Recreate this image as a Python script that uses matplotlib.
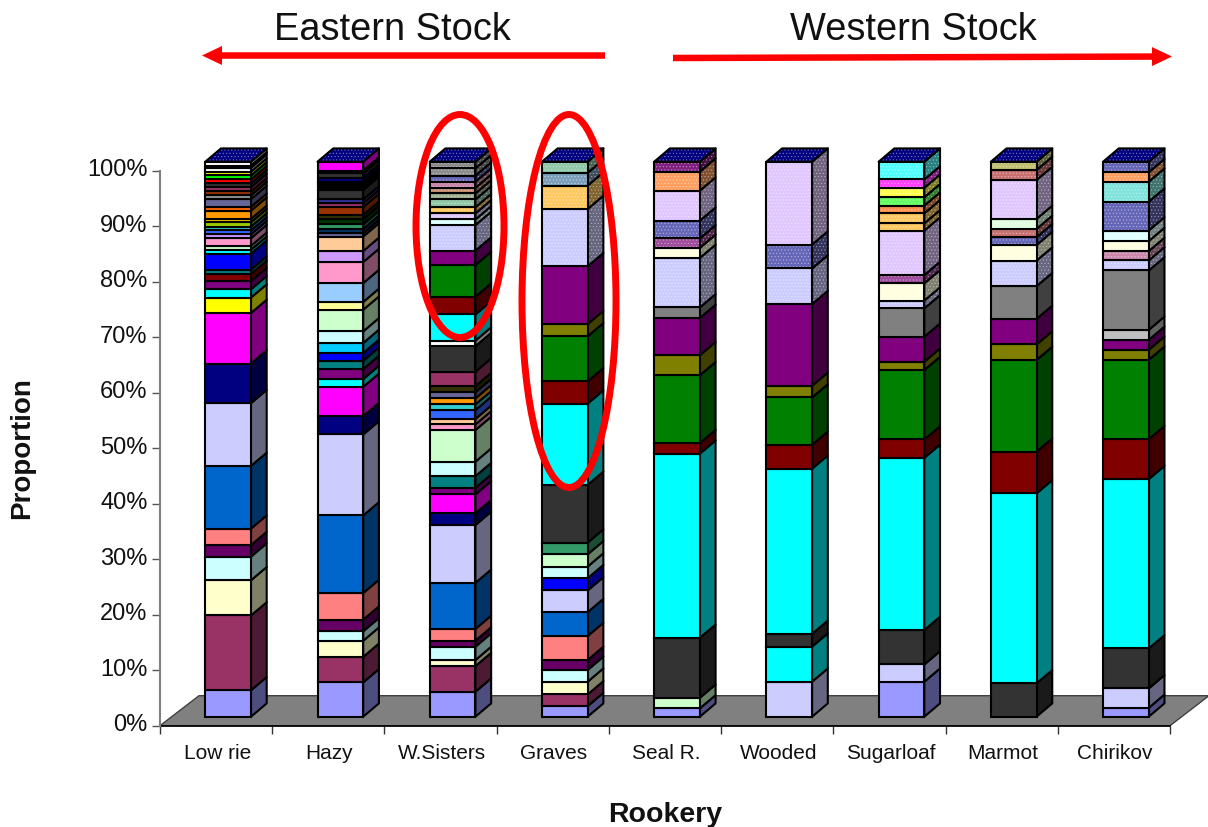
import numpy as np
import matplotlib
matplotlib.use('Agg')
import matplotlib.pyplot as plt
from matplotlib.patches import Polygon, Ellipse, FancyArrow
from matplotlib.transforms import ScaledTranslation

plt.rcParams['font.family'] = 'Liberation Sans'
plt.rcParams['hatch.linewidth'] = 0.4

rookeries = ['Low rie', 'Hazy', 'W.Sisters', 'Graves', 'Seal R.', 'Wooded', 'Sugarloaf', 'Marmot', 'Chirikov']
y_ticks = [0, 10, 20, 30, 40, 50, 60, 70, 80, 90, 100]

palette = {
    'peri': '#9999FF', 'plum': '#993366', 'ivory': '#FFFFCC', 'ltturq': '#CCFFFF', 'dkpur': '#660066',
    'coral': '#FF8080', 'ocean': '#0066CC', 'ice': '#CCCCFF', 'navy': '#000080', 'pink': '#FF00FF',
    'yellow': '#FFFF00', 'cyan': '#00FFFF', 'violet': '#800080', 'dkred': '#800000', 'teal': '#008080',
    'blue': '#0000FF', 'sky': '#00CCFF', 'ltgreen': '#CCFFCC', 'ltyel': '#FFFF99', 'pale': '#99CCFF',
    'rose': '#FF99CC', 'lav': '#CC99FF', 'tan': '#FFCC99', 'royal': '#3366FF', 'aqua': '#33CCCC',
    'lime': '#99CC00', 'gold': '#FFCC00', 'orange': '#FF9900', 'dkorg': '#FF6600', 'slate': '#666699',
    'gray40': '#969696', 'sea': '#339966', 'dkteal': '#003366', 'dkgreen': '#003300', 'dkolive': '#333300',
    'brown': '#993300', 'indigo': '#333399', 'dkgray': '#333333', 'gray': '#808080', 'green': '#008000',
    'olive': '#808000', 'white': '#FFFFFF', 'silver': '#C0C0C0', 'black': '#000000', 'red': '#FF0000',
    'bright': '#00FF00',
    # dotted fills, names start with h_
    'h_ice': '#CCCCFF', 'h_lilac': '#E0C8FF', 'h_peri': '#6666B8', 'h_plum': '#A04C9C', 'h_orange': '#FFA060',
    'h_gold': '#FFC860', 'h_sea': '#90C8A8', 'h_bluegray': '#7CA0BC', 'h_purple': '#802080', 'h_ivory': '#FFFFE0',
    'h_ltturq': '#E0FFFF', 'h_ltgreen': '#E0FFE0', 'h_aqua': '#80E4DC', 'h_rosy': '#C87070', 'h_olive': '#C0C070',
    'h_mauve': '#CC88AC', 'h_tan': '#C89070', 'h_gray': '#8C8C8C', 'h_sage': '#A0B090', 'h_cyan': '#50FFFF',
    'h_pink': '#FF40FF', 'h_yellow': '#FFFF50', 'h_lime': '#60FF60', 'h_dkorg': '#FF9050',
}

lowrie_vals = [4.8, 13.6, 6.4, 4.3, 2.1, 3.0, 11.4, 11.4, 7.2, 9.2, 2.8, 1.5, 1.5, 1.3, 0.8, 2.9, 0.7, 0.7, 1.4, 0.7,
               0.7, 0.7, 0.8, 0.6, 1.5, 0.7, 1.4, 0.7, 0.7, 0.8, 0.7, 0.7, 0.7, 0.7, 0.7, 0.4, 0.7]
lowrie_cols = ['peri', 'plum', 'ivory', 'ltturq', 'dkpur', 'coral', 'ocean', 'ice', 'navy', 'pink', 'yellow', 'cyan',
               'violet', 'dkred', 'teal', 'blue', 'cyan', 'ltgreen', 'rose', 'lav', 'royal', 'aqua', 'lime', 'gold',
               'orange', 'dkorg', 'slate', 'gray40', 'brown', 'plum', 'dkgray', 'red', 'bright', 'yellow', 'white',
               'dkgray', 'white']

hazy_vals = [6.2, 4.6, 2.9, 1.7, 2.1, 4.8, 14.0, 14.6, 3.3, 5.3, 1.4, 1.8, 1.5, 1.4, 1.8, 2.1, 3.9, 1.4, 3.4, 3.8,
             2.0, 2.6, 0.6, 0.8, 0.8, 1.0, 0.7, 1.4, 0.7, 0.7, 1.7, 1.0, 0.5, 0.7, 0.8, 0.5, 1.6]
hazy_cols = ['peri', 'plum', 'ivory', 'ltturq', 'dkpur', 'coral', 'ocean', 'ice', 'navy', 'pink', 'cyan', 'violet',
             'teal', 'blue', 'sky', 'ltturq', 'ltgreen', 'ltyel', 'pale', 'rose', 'lav', 'tan', 'slate', 'dkteal',
             'sea', 'dkgreen', 'dkolive', 'brown', 'plum', 'indigo', 'dkgray', 'black', 'white', 'navy', 'dkgray',
             'yellow', 'pink']

sisters_vals = [4.5, 4.6, 1.1, 2.4, 1.1, 2.1, 8.3, 10.4, 2.1, 3.4, 1.2, 2.1, 2.6, 5.7, 1.0, 1.0, 1.6, 1.0, 1.1, 1.1,
                1.1, 2.6, 4.6, 1.0, 4.7, 3.2, 5.7, 2.6, 4.6, 1.0, 1.1, 1.1, 1.4, 1.1, 1.0, 1.1, 1.1, 1.3, 1.2]
sisters_cols = ['peri', 'plum', 'ivory', 'ltturq', 'dkpur', 'coral', 'ocean', 'ice', 'navy', 'pink', 'violet', 'teal',
                'ltturq', 'ltgreen', 'rose', 'tan', 'royal', 'aqua', 'orange', 'slate', 'dkolive', 'plum', 'dkgray',
                'white', 'cyan', 'dkred', 'green', 'violet', 'h_ice', 'h_ltturq', 'h_lilac', 'h_gold', 'h_sea',
                'h_sage', 'h_tan', 'h_mauve', 'h_peri', 'h_gray', 'h_gray']

graves_vals = [1.9, 2.1, 2.3, 2.1, 1.8, 4.3, 4.3, 3.9, 2.2, 2.1, 2.2, 2.1, 10.4, 14.6, 4.0, 8.1, 2.2, 10.4, 10.3,
               4.2, 2.3, 2.0]
graves_cols = ['peri', 'plum', 'ivory', 'ltturq', 'dkpur', 'coral', 'ocean', 'ice', 'blue', 'ltturq', 'ltgreen', 'sea',
               'dkgray', 'cyan', 'dkred', 'green', 'olive', 'violet', 'h_ice', 'h_gold', 'h_bluegray', 'h_sea']

seal_vals = [1.5, 1.9, 10.8, 33.1, 1.9, 12.2, 3.6, 6.7, 1.9, 8.9, 1.8, 1.7, 3.2, 5.4, 3.4, 1.8]
seal_cols = ['peri', 'ltgreen', 'dkgray', 'cyan', 'dkred', 'green', 'olive', 'violet', 'gray', 'h_ice', 'h_ivory',
             'h_plum', 'h_peri', 'h_lilac', 'h_orange', 'h_purple']

wooded_vals = [6.3, 6.3, 2.3, 29.7, 4.3, 8.5, 2.1, 14.7, 6.4, 4.3, 14.9]
wooded_cols = ['ice', 'cyan', 'dkgray', 'cyan', 'dkred', 'green', 'olive', 'violet', 'h_ice', 'h_peri', 'h_lilac']

sugarloaf_vals = [6.3, 3.1, 6.2, 31.0, 3.3, 12.5, 1.5, 4.5, 5.1, 1.4, 3.1, 1.5, 8.0, 1.3, 1.8, 1.4, 1.5, 1.7, 1.5, 3.2]
sugarloaf_cols = ['peri', 'ice', 'dkgray', 'cyan', 'dkred', 'green', 'olive', 'violet', 'gray', 'h_ice', 'h_ivory',
                  'h_plum', 'h_lilac', 'h_gold', 'h_gold', 'h_dkorg', 'h_lime', 'h_yellow', 'h_pink', 'h_cyan']

marmot_vals = [6.0, 34.2, 7.5, 16.5, 2.8, 4.6, 5.9, 4.6, 2.8, 1.4, 1.5, 1.8, 7.0, 1.8, 1.5]
marmot_cols = ['dkgray', 'cyan', 'dkred', 'green', 'olive', 'violet', 'gray', 'h_ice', 'h_ivory', 'h_peri', 'h_rosy',
               'h_ltgreen', 'h_lilac', 'h_rosy', 'h_olive']

chirikov_vals = [1.6, 3.5, 7.2, 30.5, 7.2, 14.3, 1.8, 1.8, 1.8, 10.7, 1.8, 1.7, 1.8, 1.9, 5.2, 3.6, 1.7, 1.9]
chirikov_cols = ['peri', 'ice', 'dkgray', 'cyan', 'dkred', 'green', 'olive', 'violet', 'silver', 'gray', 'h_ice',
                 'h_mauve', 'h_ivory', 'h_ltturq', 'h_peri', 'h_aqua', 'h_orange', 'h_peri']

all_vals = [lowrie_vals, hazy_vals, sisters_vals, graves_vals, seal_vals, wooded_vals, sugarloaf_vals, marmot_vals, chirikov_vals]
all_cols = [lowrie_cols, hazy_cols, sisters_cols, graves_cols, seal_cols, wooded_cols, sugarloaf_cols, marmot_cols, chirikov_cols]

W, H = 1208, 827
fig = plt.figure(figsize=(W / 100, H / 100), dpi=100)
ax = fig.add_axes([160 / W, (H - 725.7) / H, 1010 / W, 555 / H])
ax.set_xlim(0, 9)
ax.set_ylim(0, 100)

# pixel sizes of the fake 3d, turned into data units
px_x = 9 / 1010
px_y = 100 / 555
bar_left = 45.3 * px_x
bar_w = 45.7 * px_x
depth_x = 15.7 * px_x
depth_y = 13.3 * px_y
lift = 9 * px_y
floor_x = 39 * px_x
floor_y = 30 * px_y
lw = 1.5


def darken(c, f=0.5):
    return tuple(v * f for v in matplotlib.colors.to_rgb(c))


def dots(c, f=0.5):
    # dot colour sits halfway to white so the pattern stays soft
    return tuple(v + (1 - v) * f for v in matplotlib.colors.to_rgb(c))


def face(pts, color, dotted, z):
    if dotted:
        ax.add_patch(Polygon(pts, facecolor=color, edgecolor=dots(color), hatch='.....', lw=0, clip_on=False, zorder=z))
        ax.add_patch(Polygon(pts, fill=False, edgecolor='black', lw=lw, clip_on=False, zorder=z, joinstyle='round'))
    else:
        ax.add_patch(Polygon(pts, facecolor=color, edgecolor='black', lw=lw, clip_on=False, zorder=z, joinstyle='round'))


# floor
ax.add_patch(Polygon([(0, 0), (9, 0), (9 + floor_x, floor_y), (floor_x, floor_y)], facecolor='#808080',
                     edgecolor='#404040', lw=1, clip_on=False, zorder=1))

for i in range(len(rookeries)):
    vals = np.array(all_vals[i], dtype=float)
    vals = vals / vals.sum() * 100
    names = all_cols[i]
    bottoms = lift + np.concatenate([[0], np.cumsum(vals)[:-1]])
    x0 = i + bar_left
    x1 = x0 + bar_w
    for v, b, n in zip(vals, bottoms, names):
        dotted = n.startswith('h_')
        c = palette[n]
        face([(x1, b), (x1 + depth_x, b + depth_y), (x1 + depth_x, b + v + depth_y), (x1, b + v)], darken(c), dotted, 3)
        if dotted:
            ax.bar(x0, v, bottom=b, width=bar_w, align='edge', color=c, edgecolor=dots(c), hatch='.....', lw=0, zorder=4, clip_on=False)
            ax.bar(x0, v, bottom=b, width=bar_w, align='edge', fill=False, edgecolor='black', lw=lw, zorder=4, clip_on=False)
        else:
            ax.bar(x0, v, bottom=b, width=bar_w, align='edge', color=c, edgecolor='black', lw=lw, zorder=4, clip_on=False)
    top = lift + 100
    face([(x0, top), (x1, top), (x1 + depth_x, top + depth_y), (x0 + depth_x, top + depth_y)], '#000080', True, 5)

# axes
for s in ['top', 'right']:
    ax.spines[s].set_visible(False)
ax.spines['left'].set_color('#808080')
ax.spines['left'].set_linewidth(1.5)
ax.spines['left'].set_bounds(0, 100)
ax.spines['bottom'].set_color('black')
ax.spines['bottom'].set_linewidth(1.2)
ax.spines['bottom'].set_zorder(2)
ax.set_yticks(y_ticks)
ax.set_yticklabels([str(t) + '%' for t in y_ticks], fontsize=17, color='#111111')
ax.tick_params(axis='y', length=6, width=1, color='#555555', pad=3)
# labels sit 3 px above their ticks in the original
up = ScaledTranslation(0, 3 / 100, fig.dpi_scale_trans)
for lab in ax.get_yticklabels():
    lab.set_transform(lab.get_transform() + up)
ax.set_xticks(np.arange(0, 10))
ax.set_xticklabels([])
ax.tick_params(axis='x', which='major', length=6, width=1, color='#333333')
ax.set_xticks(np.arange(9) + 0.51, minor=True)
ax.set_xticklabels(rookeries, minor=True, fontsize=15, color='#111111')
ax.tick_params(axis='x', which='minor', length=0, pad=13)

# everything drawn on top of the chart, in pixels
over = fig.add_axes([0, 0, 1, 1], facecolor='none')
over.set_xlim(0, W)
over.set_ylim(H, 0)
over.axis('off')
over.text(392, 30, 'Eastern Stock', fontsize=27.4, ha='center', va='center', color='#111111')
over.text(913, 30, 'Western Stock', fontsize=27.4, ha='center', va='center', color='#111111')
over.add_patch(FancyArrow(605, 55.5, -403, 0, width=6.5, head_width=19, head_length=20, length_includes_head=True,
                          color='#FF0000', lw=0))
over.add_patch(FancyArrow(673, 58, 499, -1.5, width=6.5, head_width=19, head_length=20, length_includes_head=True,
                          color='#FF0000', lw=0))
over.add_patch(Ellipse((460, 226), 88, 223, fill=False, edgecolor='#FF0000', lw=5))
over.add_patch(Ellipse((569, 301), 94, 373, fill=False, edgecolor='#FF0000', lw=5))
over.text(22, 448, 'Proportion', fontsize=20, fontweight='bold', rotation=90, ha='center', va='center', color='#111111')
over.text(665, 815, 'Rookery', fontsize=20.5, fontweight='bold', ha='center', va='center', color='#111111')

fig.savefig('out.png', dpi=100)
